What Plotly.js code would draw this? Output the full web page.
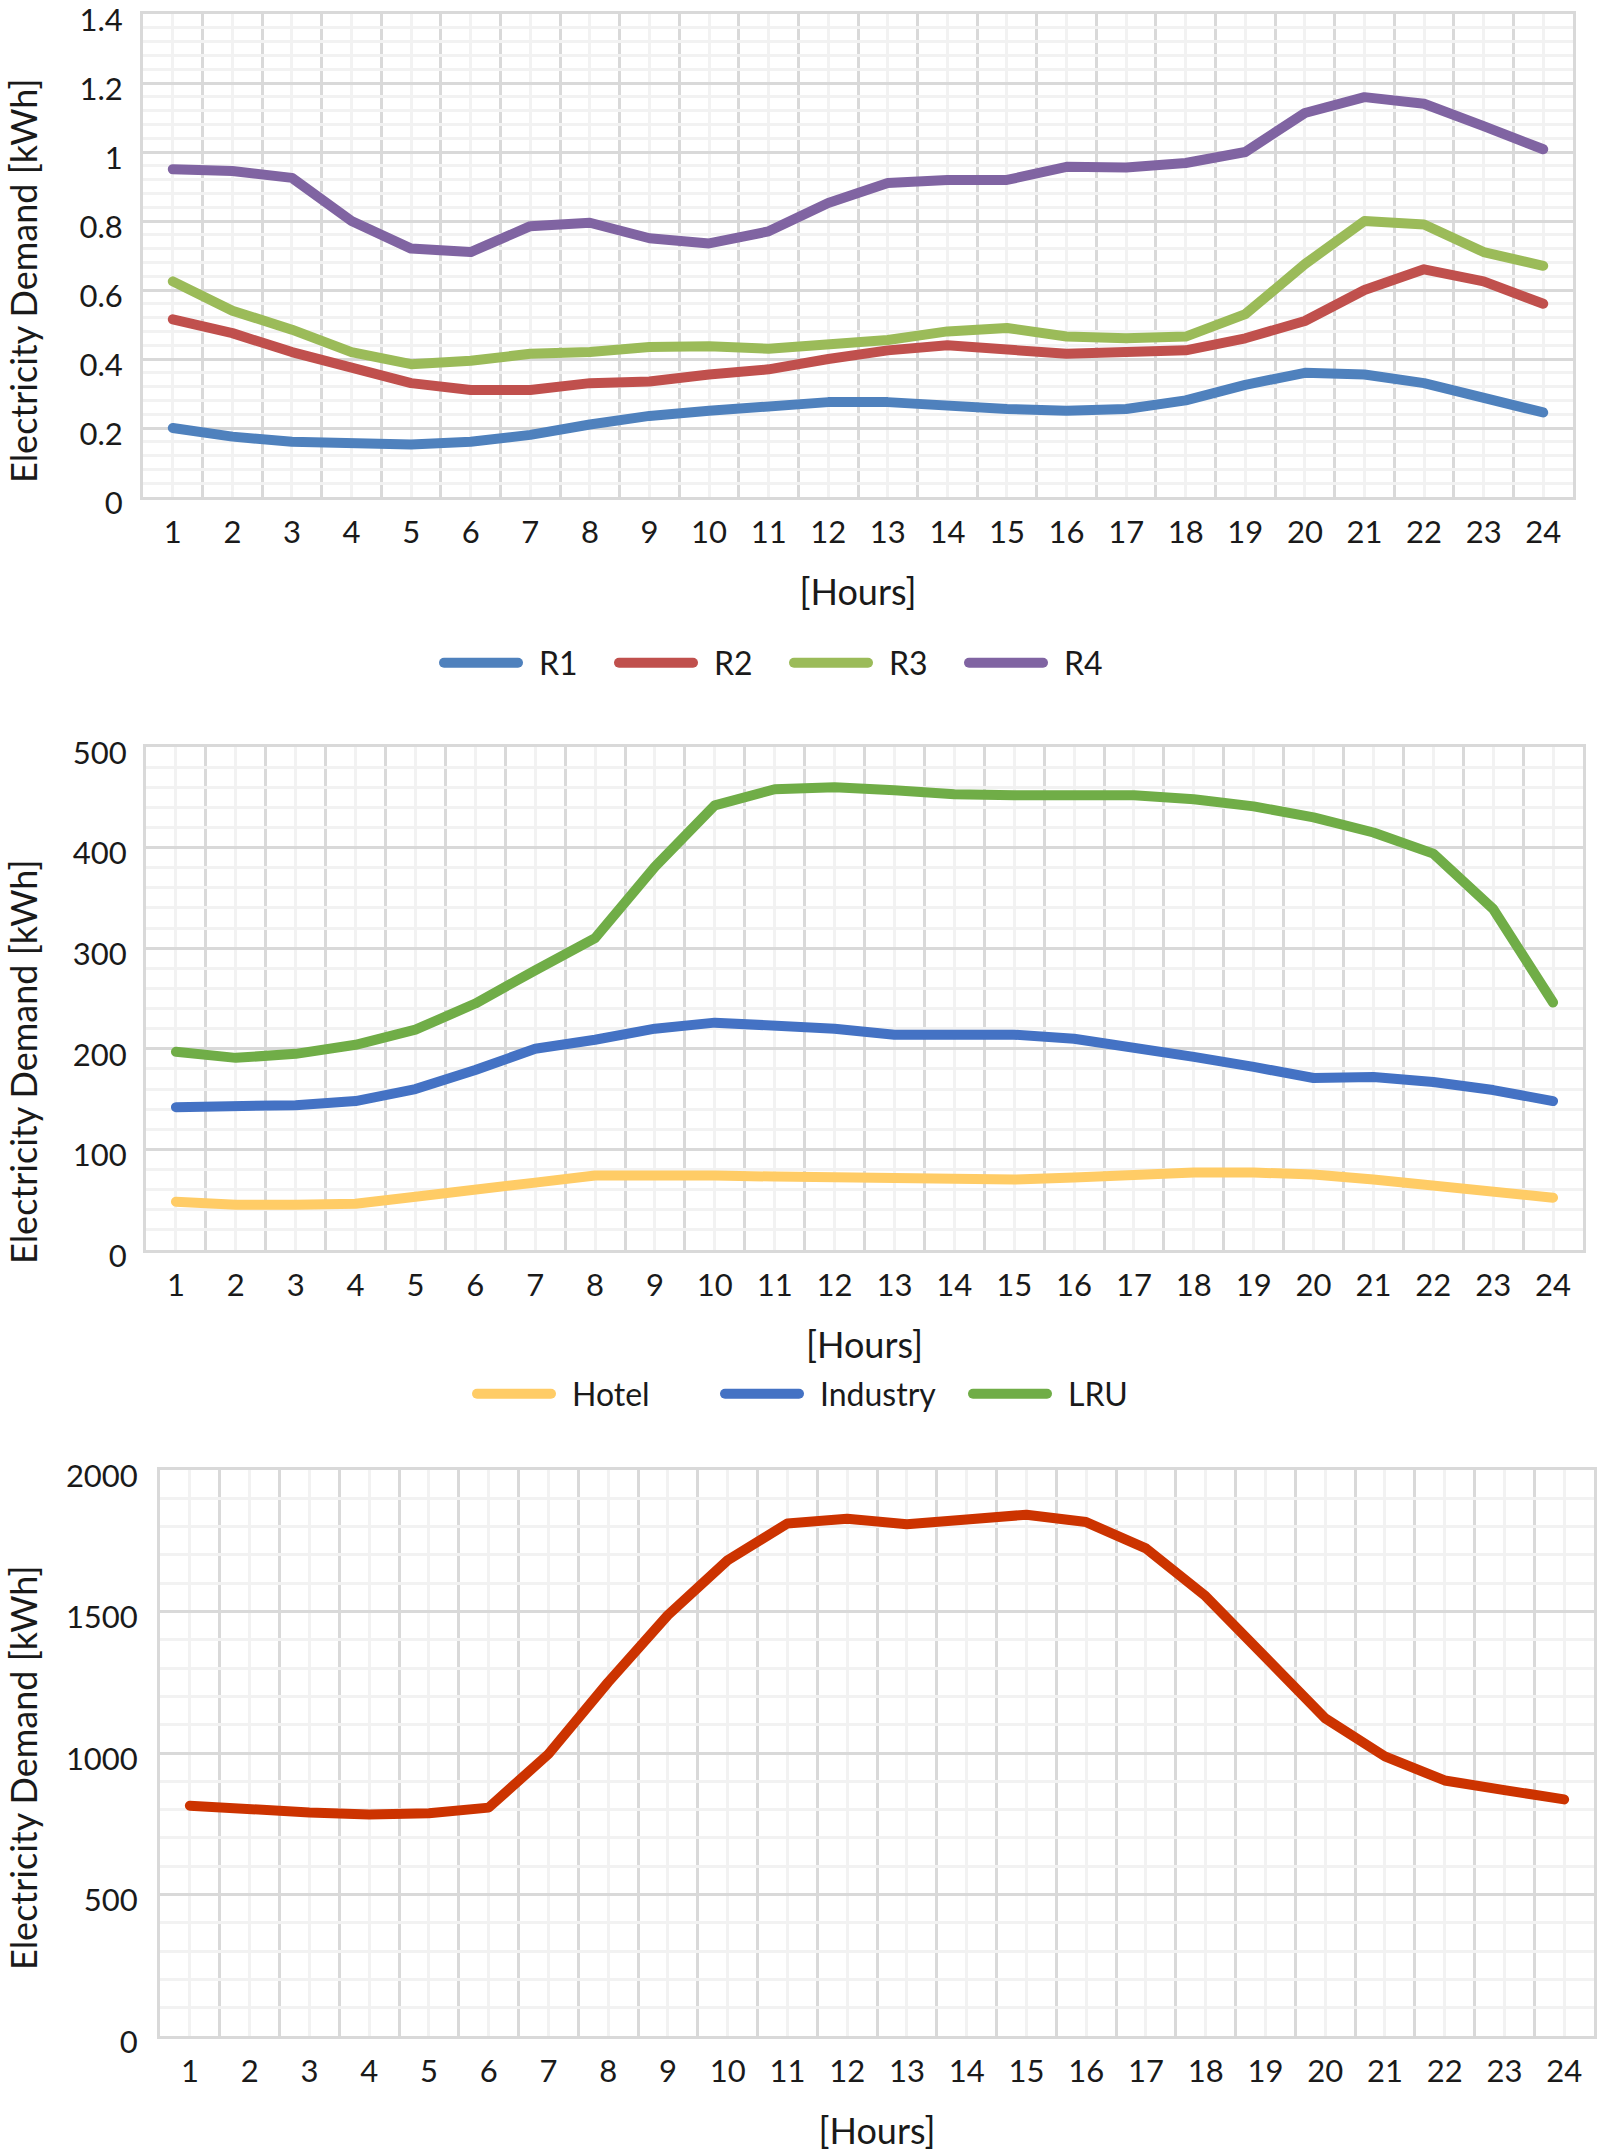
<!DOCTYPE html>
<html>
<head>
<meta charset="utf-8">
<script src="https://cdn.plot.ly/plotly-3.0.1.min.js"></script>
<style>
  html, body { margin: 0; padding: 0; background: #ffffff; }
  #chart { width: 1597px; height: 2154px; }
  .scatterlayer path.js-line { stroke-linecap: round; stroke-linejoin: round; }
  .legendlines path { stroke-linecap: round; }
  .yaxislayer-above { transform: translateY(6px); }
</style>
</head>
<body>
<div id="chart"></div>
<script>
// ---------- data ----------
const hours = [1,2,3,4,5,6,7,8,9,10,11,12,13,14,15,16,17,18,19,20,21,22,23,24];
const hourLabels = ["1","2","3","4","5","6","7","8","9","10","11","12","13","14","15","16","17","18","19","20","21","22","23","24"];

// chart 1: residential profiles [kWh]
const r1 = [0.20,0.175,0.16,0.155,0.152,0.16,0.18,0.21,0.235,0.25,0.262,0.275,0.275,0.262,0.255,0.25,0.255,0.28,0.325,0.36,0.355,0.33,0.29,0.245];
const r2 = [0.515,0.475,0.42,0.375,0.33,0.31,0.31,0.33,0.335,0.355,0.37,0.40,0.425,0.44,0.425,0.415,0.42,0.425,0.46,0.51,0.60,0.66,0.625,0.56];
const r3 = [0.625,0.54,0.485,0.42,0.385,0.395,0.415,0.42,0.435,0.437,0.43,0.445,0.455,0.48,0.49,0.465,0.46,0.465,0.53,0.675,0.80,0.79,0.71,0.67];
const r4 = [0.95,0.945,0.925,0.80,0.72,0.71,0.785,0.795,0.75,0.735,0.77,0.852,0.91,0.919,0.919,0.957,0.955,0.968,1.0,1.113,1.159,1.14,1.075,1.008];

// chart 2: hotel / industry / LRU [kWh]
const hotel    = [48,45,45,46,53,59,67,74,75,74,73,72,71,70,70,72,75,77,77,75,70,64,58,52];
const industry = [142,143,144,148,160,179,200,209,220,226,224,220,214,215,214,210,202,192,182,171,172,167,159,148];
const lru      = [197,191,195,204,219,245,278,310,381,442,458,460,457,453,452,453,452,448,441,430,415,394,339,246];

// chart 3: total [kWh]
const total = [814,798,790,783,787,807,996,1250,1487,1681,1811,1828,1808,1825,1842,1816,1723,1554,1334,1123,988,903,869,836];

// y-axis tick values
const yTicks1 = [0, 0.2, 0.4, 0.6, 0.8, 1, 1.2, 1.4];
const yTicks2 = [0, 100, 200, 300, 400, 500];
const yTicks3 = [0, 500, 1000, 1500, 2000];

const yTitle = 'Electricity Demand [kWh]';
const xTitle = '[Hours]';

// ---------- styling ----------
const FONT = 'Lato, "Open Sans", sans-serif';
const TXT = '#1a1a1a';
const MAJOR = '#d9d9d9';
const MINORC = '#f2f2f2';
const LW = 10;

const boundaries = hours.map(h => h - 0.5).concat([hours[hours.length - 1] + 0.5]);

function xAxis(domain, anchor, standoff) {
  return {
    domain: domain, anchor: anchor,
    range: [boundaries[0], boundaries[boundaries.length - 1]],
    tickmode: 'array', tickvals: hours, ticktext: hourLabels,
    showgrid: true, gridcolor: MINORC, gridwidth: 3,
    minor: { tickmode: 'array', tickvals: boundaries, showgrid: true, gridcolor: MAJOR, gridwidth: 3 },
    showline: true, mirror: true, linecolor: MAJOR, linewidth: 3,
    zeroline: false, ticks: '', ticklabelstandoff: 6, ticklabeloverflow: 'allow',
    tickfont: { family: FONT, size: 31, color: TXT },
    title: { text: xTitle, font: { family: FONT, size: 36, color: TXT }, standoff: standoff },
    fixedrange: true
  };
}
function yAxis(domain, anchor, ticks, minorDtick, labelGap) {
  const top = ticks[ticks.length - 1];
  return {
    domain: domain, anchor: anchor,
    range: [0, top], tickmode: 'array', tickvals: ticks, ticktext: ticks.map(String),
    showgrid: true, gridcolor: MAJOR, gridwidth: 3,
    minor: { tickmode: 'linear', tick0: 0, dtick: minorDtick, showgrid: true, gridcolor: MINORC, gridwidth: 3 },
    showline: true, mirror: true, linecolor: MAJOR, linewidth: 3,
    zeroline: false, ticks: '', ticklabelstandoff: labelGap, ticklabeloverflow: 'allow',
    tickfont: { family: FONT, size: 31, color: TXT },
    fixedrange: true
  };
}

const traces = [
  { x: hours, y: r1, name: 'R1', type: 'scatter', mode: 'lines', line: { color: '#4f81bd', width: LW }, xaxis: 'x', yaxis: 'y', legend: 'legend' },
  { x: hours, y: r2, name: 'R2', type: 'scatter', mode: 'lines', line: { color: '#c0504d', width: LW }, xaxis: 'x', yaxis: 'y', legend: 'legend' },
  { x: hours, y: r3, name: 'R3', type: 'scatter', mode: 'lines', line: { color: '#9bbb59', width: LW }, xaxis: 'x', yaxis: 'y', legend: 'legend' },
  { x: hours, y: r4, name: 'R4', type: 'scatter', mode: 'lines', line: { color: '#8064a2', width: LW }, xaxis: 'x', yaxis: 'y', legend: 'legend' },

  { x: hours, y: hotel, name: 'Hotel', type: 'scatter', mode: 'lines', line: { color: '#ffcc66', width: LW }, xaxis: 'x2', yaxis: 'y2', legend: 'legend2' },
  { x: hours, y: industry, name: 'Industry', type: 'scatter', mode: 'lines', line: { color: '#4472c4', width: LW }, xaxis: 'x2', yaxis: 'y2', legend: 'legend2' },
  { x: hours, y: lru, name: 'LRU', type: 'scatter', mode: 'lines', line: { color: '#70ad47', width: LW }, xaxis: 'x2', yaxis: 'y2', legend: 'legend2' },

  { x: hours, y: total, name: 'Total', type: 'scatter', mode: 'lines', line: { color: '#cc3300', width: LW }, xaxis: 'x3', yaxis: 'y3', showlegend: false }
];

const W = 1597, H = 2154;
const px = v => v / W;
const py = v => 1 - v / H;

function yTitleAnn(centerY) {
  return {
    xref: 'paper', yref: 'paper', x: px(23), y: py(centerY),
    xanchor: 'center', yanchor: 'middle', showarrow: false, textangle: -90,
    text: yTitle, font: { family: FONT, size: 36, color: TXT }
  };
}

const layout = {
  width: W, height: H,
  margin: { l: 0, r: 0, t: 0, b: 0 },
  paper_bgcolor: '#ffffff', plot_bgcolor: '#ffffff',
  font: { family: FONT, color: TXT },
  hovermode: false,

  xaxis:  xAxis([px(143), px(1573)], 'y', 31),
  yaxis:  yAxis([py(497), py(14)], 'x', yTicks1, 0.04, 11),
  xaxis2: xAxis([px(146), px(1583)], 'y2', 31),
  yaxis2: yAxis([py(1250), py(747)], 'x2', yTicks2, 20, 10),
  xaxis3: xAxis([px(160), px(1594)], 'y3', 31),
  yaxis3: yAxis([py(2036), py(1470)], 'x3', yTicks3, 100, 13),

  annotations: [ yTitleAnn(281), yTitleAnn(1062), yTitleAnn(1768) ],

  legend: {
    orientation: 'h', x: px(439), xanchor: 'left', y: py(663), yanchor: 'middle',
    font: { family: FONT, size: 32, color: TXT }, entrywidth: 86, itemwidth: 74,
    bgcolor: 'rgba(0,0,0,0)'
  },
  legend2: {
    orientation: 'h', x: px(472), xanchor: 'left', y: py(1394), yanchor: 'middle',
    font: { family: FONT, size: 32, color: TXT }, entrywidth: 159, itemwidth: 74,
    bgcolor: 'rgba(0,0,0,0)'
  }
};

Plotly.newPlot('chart', traces, layout, { staticPlot: true, displayModeBar: false }).then(function (gd) {
  // widen the gap between each legend key line and its label, as in the reference
  gd.querySelectorAll('.infolayer g.traces text').forEach(function (t) {
    const x0 = parseFloat(t.getAttribute('x') || '0');
    t.setAttribute('x', x0 + 16);
  });
});
</script>
</body>
</html>
